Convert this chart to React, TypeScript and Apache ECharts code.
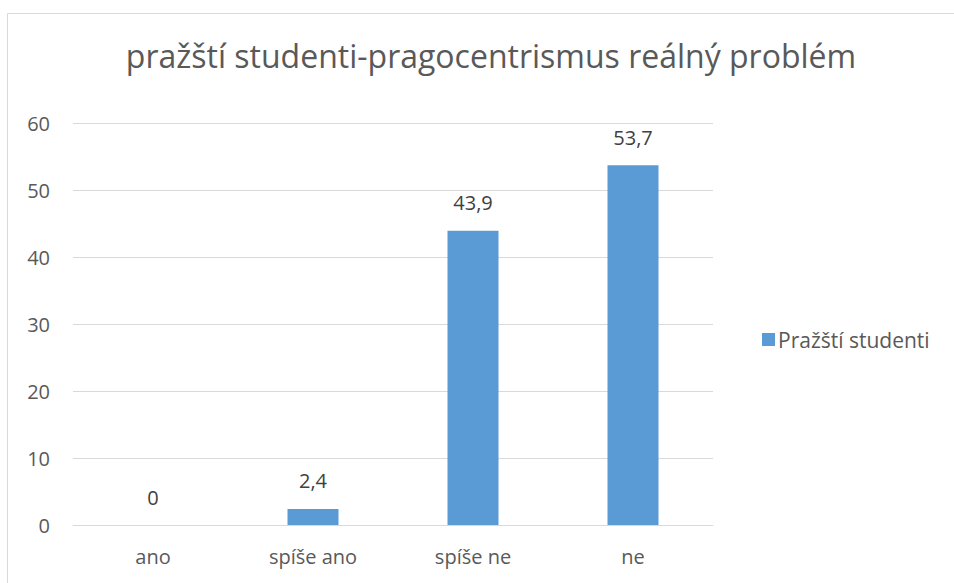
import React, { useEffect, useRef } from "react";
import * as echarts from "echarts";

const titleText = "pražští studenti-pragocentrismus reálný problém";
const categories = ["ano", "spíše ano", "spíše ne", "ne"];
const seriesName = "Pražští studenti";
const values = [0, 2.4, 43.9, 53.7];
const yTicks = { min: 0, max: 60, interval: 10 };

const FONT = "'Open Sans', 'Noto Sans', sans-serif";

export default function App() {
  const ref = useRef<HTMLDivElement>(null);
  useEffect(() => {
    document.body.style.margin = "0";
    document.body.style.overflow = "hidden";
    if (!ref.current) return;
    const chart = echarts.init(ref.current, undefined, { renderer: "svg" });
    chart.setOption({
      animation: false,
      backgroundColor: "#ffffff",
      textStyle: { fontFamily: FONT },
      title: {
        text: titleText,
        left: 486,
        top: 34,
        textAlign: "center",
        textStyle: { fontFamily: FONT, fontSize: 32, fontWeight: "normal", color: "#595959" },
      },
      graphic: [
        {
          type: "rect",
          shape: { x: 7.5, y: 13.5, width: 2000, height: 2000 },
          style: { fill: "none", stroke: "#d9d9d9", lineWidth: 1 },
          silent: true,
        },
      ],
      legend: {
        orient: "vertical",
        left: 757,
        top: 324,
        itemWidth: 13,
        itemHeight: 13,
        itemGap: 6,
        icon: "rect",
        textStyle: { fontFamily: FONT, fontSize: 21, color: "#595959", padding: [0, 0, 0, -2] },
        data: [seriesName],
      },
      grid: { left: 73, right: 241, top: 123, bottom: 58, containLabel: false },
      xAxis: {
        type: "category",
        data: categories,
        axisLine: { show: true, lineStyle: { color: "#d9d9d9", width: 1 } },
        axisTick: { show: false },
        axisLabel: { color: "#595959", fontSize: 20, fontFamily: FONT, margin: 21 },
      },
      yAxis: {
        type: "value",
        min: yTicks.min,
        max: yTicks.max,
        interval: yTicks.interval,
        axisLine: { show: false },
        axisTick: { show: false },
        splitLine: { lineStyle: { color: "#d9d9d9", width: 1 } },
        axisLabel: { color: "#595959", fontSize: 20, fontFamily: FONT, margin: 23 },
      },
      series: [
        {
          name: seriesName,
          type: "bar",
          data: values,
          barWidth: 51,
          itemStyle: { color: "#5b9bd5" },
          label: {
            show: true,
            position: "top",
            distance: 18,
            color: "#404040",
            fontSize: 20,
            fontFamily: FONT,
            formatter: (p: any) => String(p.value).replace(".", ","),
          },
        },
      ],
    });
    return () => chart.dispose();
  }, []);
  return <div ref={ref} style={{ width: 954, height: 583 }} />;
}
